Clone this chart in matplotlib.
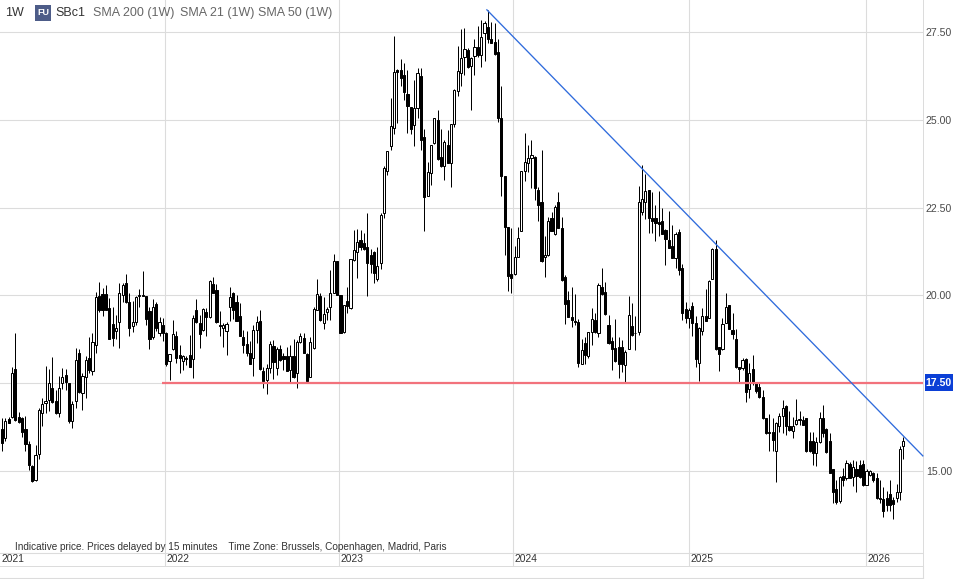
import matplotlib
matplotlib.use("Agg")
import matplotlib.pyplot as plt
from matplotlib.lines import Line2D
from matplotlib.patches import Rectangle

# Weekly sugar candles
opens = [
    16.20, 15.93, 16.47, 16.53, 17.90, 16.55, 16.50, 16.19, 15.76, 15.14,
    14.73, 15.47, 16.66, 16.95, 17.01, 17.36, 17.00, 16.66, 17.50, 17.74,
    17.50, 16.41, 16.98, 18.35, 17.23, 17.69, 18.21, 17.86, 18.59, 19.99,
    20.03, 20.03, 19.63, 19.18, 19.00, 19.24, 20.01, 20.35, 19.80, 19.14,
    19.25, 19.98, 20.00, 19.97, 19.56, 18.81, 19.75, 18.94, 19.16, 18.92,
    18.14, 18.48, 18.85, 18.31, 18.14, 18.20, 18.29, 18.18, 19.59, 19.21,
    19.02, 19.54, 19.38, 20.32, 20.16, 19.15, 19.06, 19.00, 19.68, 20.06,
    19.82, 19.42, 18.81, 18.62, 18.37, 18.21, 19.02, 19.27, 17.86, 17.59,
    17.93, 18.56, 17.93, 18.47, 18.26, 18.26, 17.88, 18.26, 17.78, 18.66,
    18.80, 18.32, 17.69, 18.49, 19.59, 19.98, 19.22, 19.54, 19.66, 20.08,
    20.97, 20.00, 18.97, 19.84, 19.63, 21.01, 21.23, 21.58, 21.48, 21.38,
    21.15, 21.23, 20.48, 20.91, 22.34, 23.53, 24.26, 24.76, 26.42, 26.42,
    26.27, 25.74, 25.36, 24.84, 25.33, 26.24, 24.50, 22.84, 23.48, 24.33,
    25.00, 23.94, 23.67, 24.29, 23.78, 24.87, 25.82, 26.33, 26.80, 26.99,
    26.52, 26.82, 27.07, 26.83, 27.47, 27.64, 27.29, 27.20, 26.94, 25.05,
    23.41, 21.96, 20.60, 20.60, 21.10, 21.83, 23.53, 23.76, 23.90, 23.95,
    23.00, 22.65, 21.10, 21.15, 22.20, 21.75, 22.65, 21.91, 20.51, 19.87,
    19.39, 19.28, 19.23, 18.06, 18.65, 18.27, 18.95, 19.31, 18.92, 20.23,
    20.11, 19.15, 18.69, 18.50, 18.52, 18.52, 18.01, 18.48, 19.13, 18.94,
    18.97, 22.37, 22.67, 23.00, 22.21, 22.19, 22.10, 22.11, 21.86, 21.58,
    21.41, 21.06, 21.80, 20.77, 19.60, 19.35, 19.70, 19.21, 18.07, 19.00,
    19.41, 19.37, 20.48, 21.33, 18.54, 18.47, 19.22, 19.73, 19.02, 18.75,
    17.97, 17.92, 18.18, 17.33, 17.90, 17.54, 17.40, 17.10, 16.50, 16.10,
    16.10, 15.58, 16.29, 16.57, 16.84, 16.27, 16.15, 16.33, 16.44, 16.46,
    16.51, 15.84, 15.86, 15.51, 15.82, 16.50, 16.20, 15.84, 15.05, 14.48,
    14.15, 14.86, 14.79, 15.19, 14.82, 15.05, 15.17, 15.20, 14.61, 14.89,
    14.94, 14.79, 14.24, 14.20, 14.23, 14.34, 14.16, 14.24, 14.41, 15.71,
]
highs = [
    16.50, 16.50, 16.55, 17.95, 18.92, 16.69, 16.55, 16.57, 15.84, 15.17,
    15.74, 16.79, 17.07, 17.99, 17.91, 18.24, 17.31, 17.71, 17.93, 17.91,
    17.50, 17.00, 18.50, 18.47, 17.78, 18.26, 18.81, 18.92, 20.09, 20.37,
    20.20, 20.30, 19.92, 19.68, 19.44, 20.36, 20.35, 20.61, 20.06, 19.85,
    19.99, 20.17, 20.70, 19.99, 19.68, 19.89, 19.82, 19.38, 19.35, 18.97,
    18.32, 19.30, 19.00, 18.59, 18.31, 18.26, 18.87, 19.44, 19.89, 19.44,
    19.63, 19.63, 20.44, 20.52, 20.33, 19.56, 19.21, 19.23, 20.25, 20.11,
    20.01, 19.78, 19.02, 19.00, 18.69, 19.16, 19.40, 19.57, 17.95, 18.05,
    18.69, 18.73, 18.52, 18.59, 18.35, 18.52, 18.59, 18.75, 18.73, 18.92,
    18.94, 18.35, 18.81, 19.66, 20.46, 20.06, 19.94, 19.68, 20.72, 21.17,
    20.97, 20.00, 19.72, 20.23, 21.03, 21.86, 21.88, 21.86, 21.78, 22.34,
    21.31, 21.26, 21.39, 22.34, 23.69, 24.12, 25.62, 27.39, 26.44, 26.73,
    26.61, 26.42, 25.36, 26.14, 26.47, 26.47, 24.73, 23.81, 24.29, 25.06,
    25.28, 24.73, 24.43, 24.70, 24.88, 25.87, 27.10, 27.59, 27.61, 27.04,
    26.78, 27.29, 27.67, 27.85, 27.80, 28.13, 27.77, 27.75, 27.29, 25.97,
    23.41, 21.96, 21.91, 21.41, 21.94, 23.53, 24.62, 24.28, 24.43, 23.97,
    23.10, 24.14, 21.69, 22.22, 22.36, 22.58, 22.93, 22.24, 20.58, 20.13,
    20.23, 20.04, 19.32, 18.77, 18.82, 18.96, 19.64, 19.49, 20.34, 20.77,
    20.37, 19.44, 18.82, 19.32, 18.82, 18.73, 18.44, 19.98, 19.79, 19.41,
    23.12, 23.71, 23.46, 23.00, 22.95, 22.57, 22.98, 22.48, 21.89, 22.40,
    22.00, 21.81, 21.88, 20.89, 19.82, 19.63, 19.82, 19.40, 19.11, 19.63,
    20.17, 20.44, 21.34, 21.58, 18.54, 19.35, 20.08, 19.73, 19.49, 19.03,
    17.97, 18.21, 18.21, 18.07, 18.30, 17.54, 17.50, 17.31, 16.50, 16.63,
    16.50, 16.39, 16.66, 17.03, 16.89, 16.72, 16.55, 17.04, 16.72, 16.57,
    16.51, 16.12, 16.12, 15.98, 16.69, 16.88, 16.22, 16.08, 15.07, 14.75,
    14.86, 15.08, 15.31, 15.27, 15.30, 15.28, 15.32, 15.32, 15.06, 15.03,
    14.96, 14.94, 14.75, 14.54, 14.42, 14.75, 14.27, 14.63, 15.70, 15.98,
]
lows = [
    15.58, 15.84, 16.36, 16.52, 16.43, 16.36, 15.98, 15.58, 15.03, 14.70,
    14.71, 15.35, 16.29, 16.66, 16.72, 16.95, 16.62, 16.55, 17.33, 17.31,
    16.36, 16.21, 16.79, 17.23, 16.74, 17.07, 17.78, 17.74, 18.35, 19.54,
    19.41, 19.57, 18.75, 18.56, 18.75, 18.51, 19.82, 19.78, 18.83, 18.97,
    19.16, 19.68, 19.97, 19.16, 18.48, 18.75, 19.00, 18.83, 18.69, 17.99,
    17.59, 18.45, 18.07, 17.78, 17.88, 18.02, 17.97, 17.64, 19.21, 18.51,
    19.00, 18.85, 19.37, 20.06, 19.21, 18.83, 18.52, 18.31, 19.28, 19.32,
    19.26, 18.83, 18.35, 18.26, 18.05, 17.71, 18.64, 17.88, 17.36, 17.20,
    17.78, 17.63, 17.74, 18.14, 17.88, 17.85, 17.52, 17.64, 17.37, 18.64,
    18.35, 17.57, 17.67, 18.47, 19.57, 19.28, 19.05, 19.30, 19.30, 20.06,
    20.02, 18.94, 18.94, 19.51, 19.60, 20.99, 20.49, 21.29, 21.29, 19.98,
    20.65, 20.34, 20.42, 20.76, 22.20, 23.43, 24.13, 24.60, 24.90, 25.95,
    25.57, 24.62, 24.59, 24.24, 25.05, 24.14, 21.82, 22.82, 23.15, 24.31,
    23.86, 23.65, 23.29, 23.76, 23.10, 24.79, 25.68, 25.97, 26.28, 26.47,
    25.28, 26.28, 26.80, 26.50, 26.66, 27.18, 27.18, 26.85, 24.95, 22.82,
    21.15, 20.13, 20.06, 20.58, 21.10, 21.83, 23.27, 23.50, 23.05, 22.72,
    22.13, 20.96, 20.53, 21.12, 21.84, 21.72, 21.91, 20.42, 19.18, 19.39,
    19.11, 19.15, 17.97, 18.04, 18.04, 18.23, 18.59, 18.93, 18.82, 20.01,
    19.44, 18.61, 17.87, 18.11, 17.65, 17.83, 17.54, 18.46, 18.85, 18.44,
    18.87, 22.29, 22.17, 21.79, 21.77, 21.56, 21.69, 21.75, 20.87, 21.34,
    21.06, 20.77, 20.58, 19.30, 19.21, 19.06, 18.83, 17.95, 17.57, 18.87,
    19.28, 19.35, 20.46, 18.45, 17.86, 18.45, 19.21, 19.03, 18.75, 17.92,
    17.52, 17.88, 16.97, 17.07, 17.45, 17.21, 17.07, 16.49, 16.06, 15.58,
    15.58, 14.70, 16.10, 16.08, 16.03, 16.15, 15.93, 16.31, 16.31, 16.31,
    15.55, 15.55, 15.17, 15.13, 15.79, 15.96, 15.51, 14.93, 14.10, 14.06,
    14.10, 14.58, 14.75, 14.79, 14.56, 14.41, 14.79, 14.56, 14.61, 14.87,
    14.70, 14.20, 14.08, 13.68, 13.85, 13.85, 13.64, 14.13, 14.18, 15.35,
]
closes = [
    15.81, 16.41, 16.38, 17.78, 16.44, 16.40, 16.12, 15.76, 15.18, 14.71,
    15.45, 16.74, 16.91, 16.99, 17.50, 16.96, 16.66, 17.36, 17.69, 17.52,
    16.41, 16.90, 18.16, 17.26, 17.71, 18.16, 17.88, 18.66, 19.95, 19.57,
    19.59, 19.59, 18.76, 18.78, 19.08, 20.06, 20.30, 19.80, 19.06, 19.25,
    19.95, 20.00, 19.99, 19.33, 18.75, 19.68, 19.07, 19.23, 18.94, 18.05,
    18.32, 18.89, 18.21, 18.21, 18.26, 18.22, 17.97, 19.35, 19.23, 18.90,
    19.61, 19.38, 20.41, 20.06, 19.23, 19.13, 19.15, 19.18, 19.95, 19.59,
    19.28, 18.85, 18.59, 18.35, 18.05, 19.02, 19.24, 17.90, 17.55, 17.93,
    18.61, 18.09, 18.47, 18.16, 18.18, 17.86, 18.26, 17.67, 18.67, 18.83,
    18.37, 17.57, 18.68, 19.62, 20.03, 19.30, 19.47, 19.60, 20.08, 20.97,
    20.02, 18.94, 19.72, 19.71, 21.03, 21.28, 21.51, 21.37, 21.31, 20.91,
    20.89, 20.65, 20.83, 22.29, 23.62, 24.10, 24.83, 26.36, 26.37, 26.18,
    25.78, 25.38, 24.73, 25.33, 26.33, 24.41, 22.80, 23.51, 24.29, 25.06,
    23.89, 23.67, 24.36, 23.78, 24.87, 25.85, 26.38, 26.75, 27.01, 26.50,
    26.75, 27.07, 26.83, 27.35, 27.75, 27.29, 27.18, 26.87, 25.06, 23.40,
    21.96, 20.56, 20.49, 21.08, 21.62, 23.53, 23.81, 23.90, 23.99, 23.05,
    22.58, 20.99, 21.16, 22.11, 21.84, 22.53, 21.93, 20.44, 19.75, 19.39,
    19.30, 19.24, 18.08, 18.44, 18.31, 18.95, 19.34, 18.95, 20.29, 20.03,
    19.46, 18.65, 18.46, 18.14, 18.04, 18.06, 18.40, 19.43, 18.87, 18.93,
    22.65, 22.74, 22.98, 22.21, 22.12, 22.07, 22.02, 21.75, 21.60, 21.36,
    21.07, 21.74, 20.71, 19.49, 19.35, 19.59, 19.21, 18.19, 19.06, 19.40,
    19.28, 20.41, 21.32, 18.47, 18.32, 19.19, 19.68, 19.04, 18.90, 17.97,
    17.90, 18.16, 17.26, 17.80, 17.50, 17.29, 17.10, 16.50, 16.08, 16.08,
    15.87, 16.36, 16.57, 16.79, 16.27, 16.17, 16.29, 16.46, 16.48, 16.31,
    15.58, 15.58, 15.51, 15.82, 16.50, 16.09, 15.53, 14.95, 14.41, 14.13,
    14.84, 14.75, 15.22, 14.81, 15.11, 14.86, 14.82, 14.59, 15.00, 14.99,
    14.73, 14.23, 14.20, 13.87, 14.04, 14.04, 14.06, 14.41, 15.62, 15.84,
]

price_ticks = [15.0, 17.5, 20.0, 22.5, 25.0, 27.5]
price_labels = ["15.00", "17.50", "20.00", "22.50", "25.00", "27.50"]
year_ticks = [48.64, 100.7, 152.6, 205.0, 257.7]
year_labels = ["2022", "2023", "2024", "2025", "2026"]
legend_items = ["SMA 200 (1W)", "SMA 21 (1W)", "SMA 50 (1W)"]

support_level = 17.5
support_start = 47.7
trend_x = [144.7, 274.8]
trend_y = [28.13, 15.43]

W, H = 957, 579
GRID = "#dcdcdc"
plt.rcParams["font.family"] = ["Liberation Sans", "DejaVu Sans"]

fig = plt.figure(figsize=(W / 100, H / 100), dpi=100)
ax = fig.add_axes([0, 1 - 566 / H, 923 / W, 566 / H])
ax.set_xlim(-0.6, 274.85)
ax.set_ylim(12.295, 28.41)

for name in ["top", "left"]:
    ax.spines[name].set_visible(False)
for name in ["right", "bottom"]:
    ax.spines[name].set_color(GRID)
    ax.spines[name].set_linewidth(0.72)

ax.yaxis.tick_right()
ax.set_yticks(price_ticks, price_labels, fontsize=7.6, color="#4a4a4a")
ax.set_xticks(year_ticks, [])
ax.tick_params(length=0, pad=2)
ax.grid(True, color=GRID, linewidth=0.8)
ax.set_axisbelow(True)

# candles
for i, (o, h, l, c) in enumerate(zip(opens, highs, lows, closes)):
    ax.vlines(i, l, h, color="black", linewidth=0.72, zorder=2)
    fill = "white" if c >= o else "black"
    ax.add_patch(Rectangle((i - 0.32, min(o, c)), 0.64, abs(c - o), facecolor=fill,
                           edgecolor="black", linewidth=0.72, zorder=3))

ax.plot([support_start, 274.85], [support_level, support_level], color="#f2727c",
        linewidth=1.6, zorder=4, solid_capstyle="butt")
ax.plot(trend_x, trend_y, color="#2f6bdc", linewidth=0.95, zorder=4, clip_on=False)

# 17.50 price flag sits over the normal tick label
ax.get_yticklabels()[1].set_visible(False)
fig.add_artist(Rectangle((925 / W, 1 - 391 / H), 28 / W, 17 / H, transform=fig.transFigure,
                         facecolor="#0b3fd6", edgecolor="none", zorder=5))
fig.text(939 / W, 1 - 383 / H, "17.50", fontsize=7.6, fontweight="bold", color="white",
         ha="center", va="center", zorder=6)

# time band
ax.plot([0, 1], [13 / 566, 13 / 566], transform=ax.transAxes, color=GRID, linewidth=0.8)
ax.text(1.5 / 923, 6.5 / 566, "2021", transform=ax.transAxes, fontsize=7.4,
        color="#333333", va="center")
for pos, label in zip(year_ticks, year_labels):
    ax.annotate(label, (pos, 6.5 / 566), xycoords=("data", "axes fraction"),
                xytext=(1.5, 0), textcoords="offset pixels", fontsize=7.4,
                color="#333333", va="center")
ax.text(15 / 923, 19 / 566,
        "Indicative price. Prices delayed by 15 minutes    Time Zone: Brussels, Copenhagen, Madrid, Paris",
        transform=ax.transAxes, fontsize=7.2, color="#333333", va="center")

fig.add_artist(Line2D([0, 923 / W], [1 - 578 / H, 1 - 578 / H], color=GRID, linewidth=0.8))
fig.add_artist(Line2D([923 / W, 923 / W], [0, 13 / H], color=GRID, linewidth=0.8))

# header strip
fig.text(5 / W, 1 - 13 / H, "1W", fontsize=9, color="#333333", va="center")
fig.add_artist(Rectangle((35 / W, 1 - 20.5 / H), 16 / W, 16 / H, transform=fig.transFigure,
                         facecolor="#4d5c88", edgecolor="none"))
fig.text(43 / W, 1 - 12.7 / H, "FU", fontsize=6.5, fontweight="bold", color="white",
         ha="center", va="center", zorder=6)
fig.text(55 / W, 1 - 13 / H, "SBc1", fontsize=9, color="#333333", va="center")
for left, item in zip([93, 180, 258], legend_items):
    fig.text(left / W, 1 - 13 / H, item, fontsize=9, color="#666666", va="center")

fig.savefig("out.png", dpi=100)
